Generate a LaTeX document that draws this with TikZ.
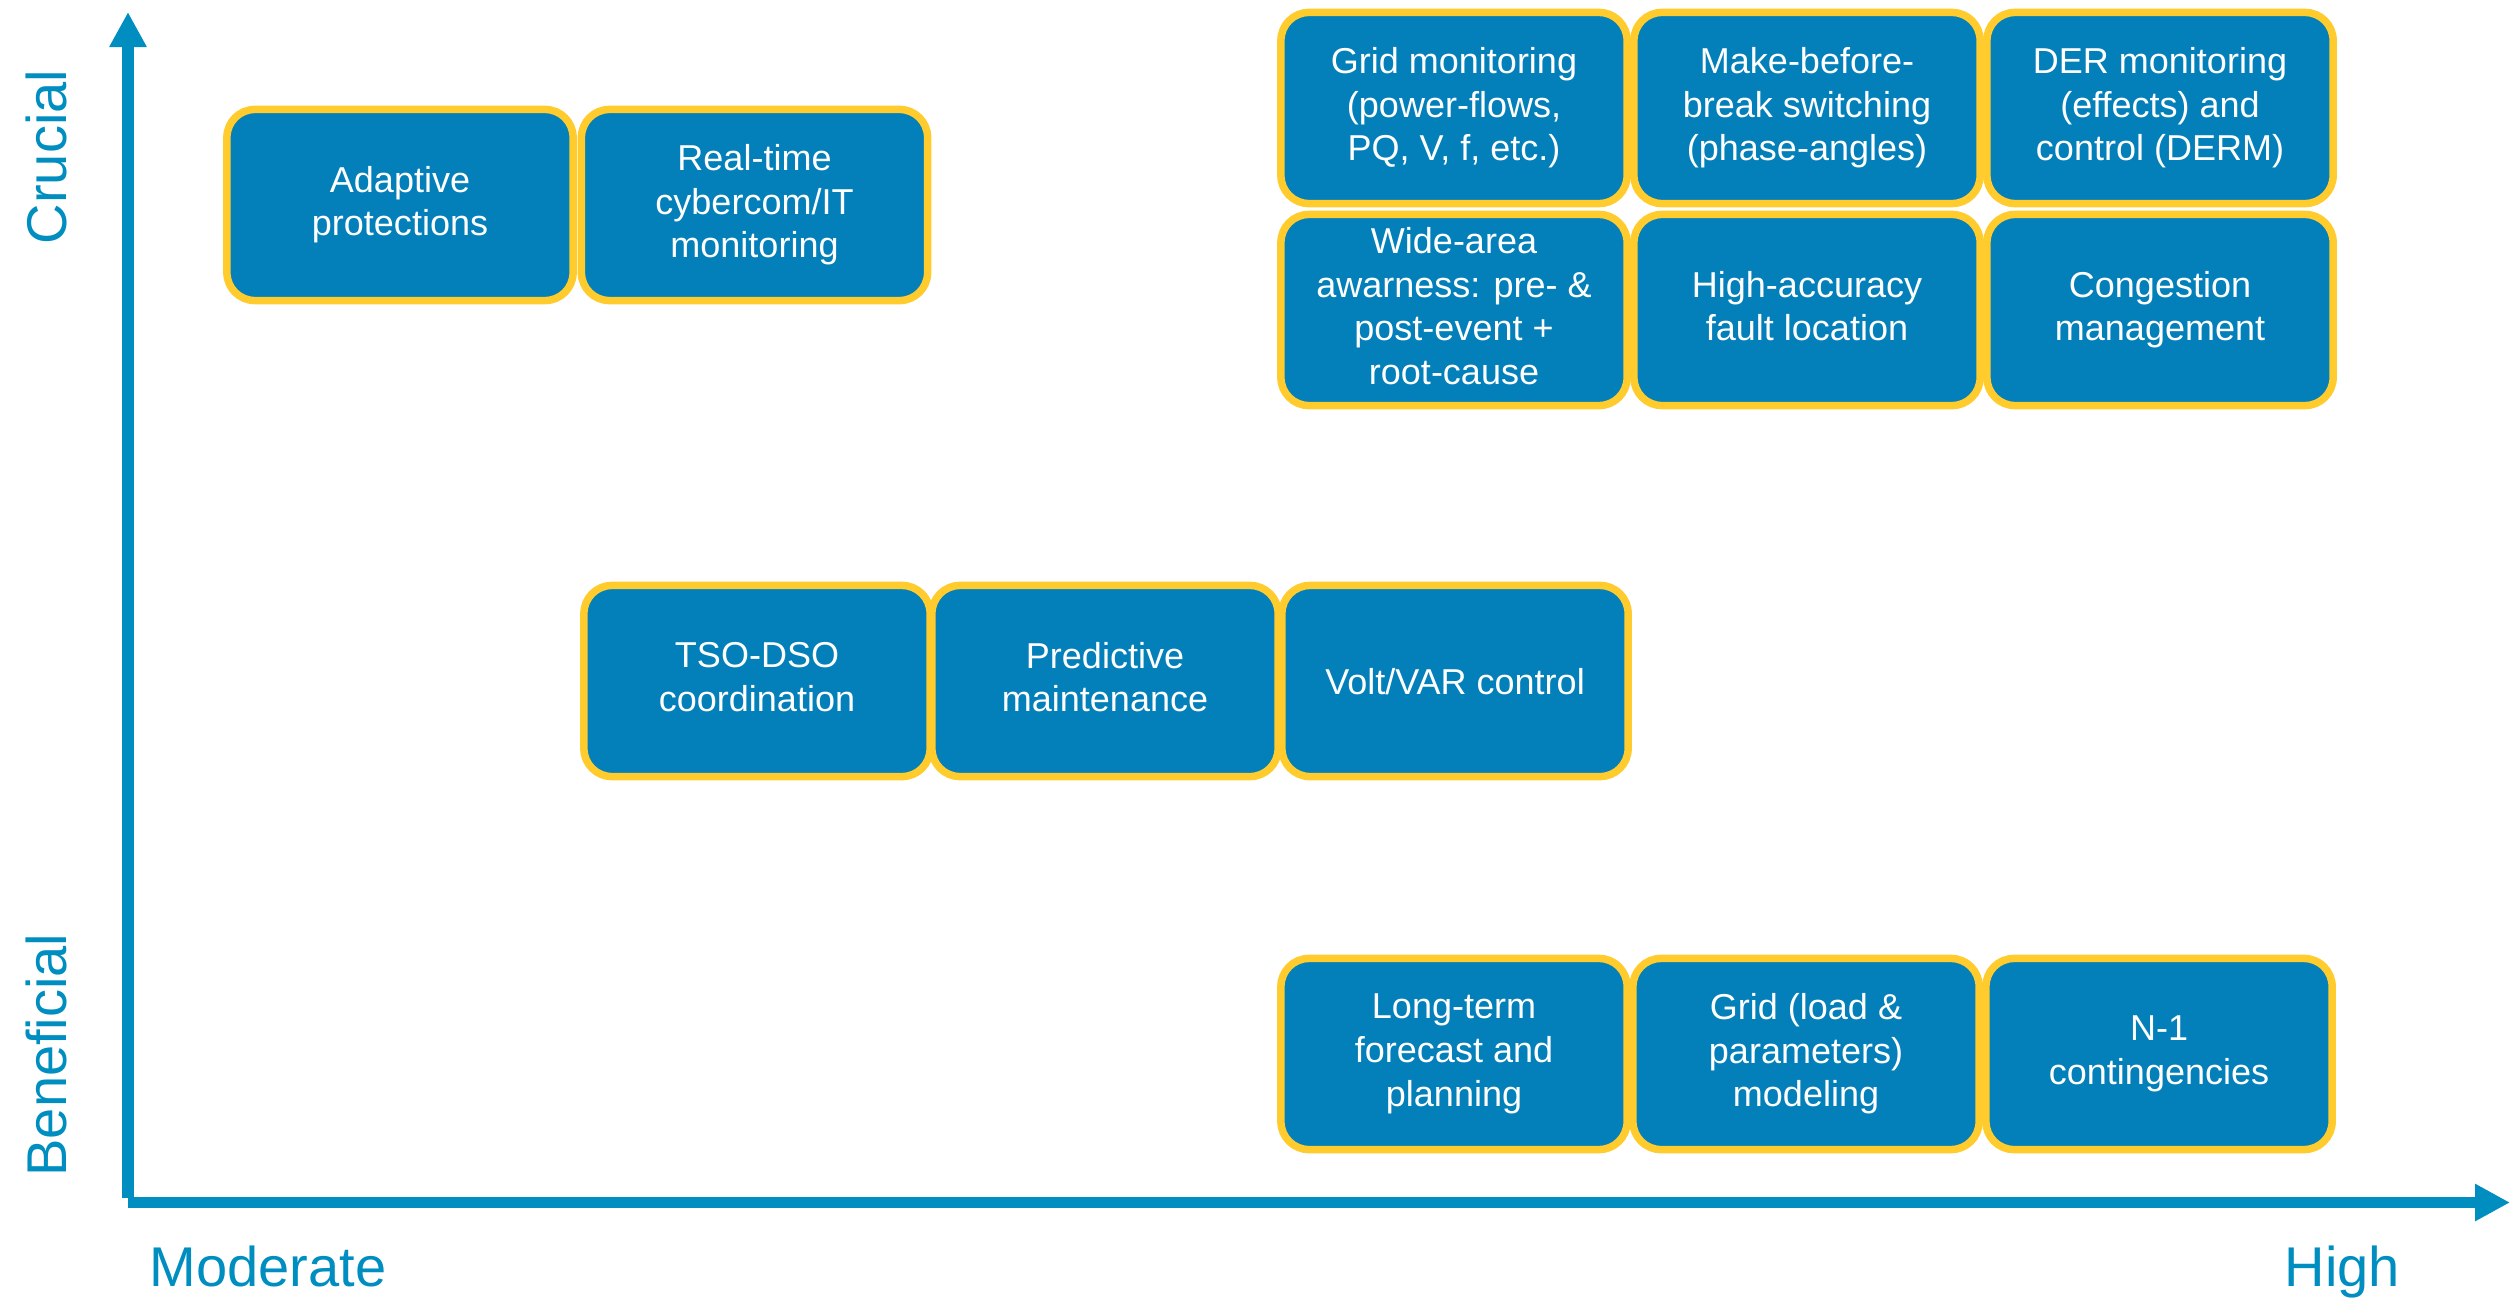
\documentclass[tikz,border=0pt]{standalone}
\usepackage{fontspec}
\setmainfont{Liberation Sans}
\usetikzlibrary{arrows.meta}
\definecolor{boxblue}{RGB}{3,127,186}
\definecolor{boxgold}{RGB}{255,203,45}
\definecolor{axisblue}{RGB}{0,142,192}
\begin{document}
\begin{tikzpicture}[x=0.01cm,y=-0.01cm,
  item/.style={draw=boxgold, fill=boxblue, line width=0.075cm,
    rounded corners=0.28cm, minimum width=3.46cm, minimum height=1.91cm,
    inner sep=0pt, text=white, align=center,
    font=\fontsize{10.24}{12.4}\selectfont,
    % fixed first-line height and last-line depth keep every text block centred alike
    execute at begin node={\rule{0pt}{0.34cm}},
    execute at end node={\rule[-0.08cm]{0pt}{0.08cm}}},
  axis/.style={draw=axisblue, line width=0.11cm,
    -{Triangle[length=0.35cm,width=0.35cm]}},
  axislabel/.style={text=axisblue, inner sep=0pt,
    font=\fontsize{15.93}{19}\selectfont}]
\useasboundingbox (0,0) rectangle (2510,1297);

% axes
\coordinate (yFoot) at (128,1198);
\coordinate (yTop) at (128,12);
\coordinate (xStart) at (128,1202.5);
\coordinate (xEnd) at (2510,1202.5);
\draw[axis] (yFoot) -- (yTop);
\draw[axis] (xStart) -- (xEnd);

% axis labels
\node[axislabel, anchor=base west] (lmod) at (149,1286) {Moderate};
\node[axislabel, anchor=base west] (lhigh) at (2284,1286) {High};
\node[axislabel, anchor=base, rotate=90] (lcru) at (66,157) {Crucial};
\node[axislabel, anchor=base, rotate=90] (lben) at (66,1055) {Beneficial};

% crucial, moderate
\node[item] (ap) at (400,205) {Adaptive\\protections};
\node[item] (rt) at (754.5,205) {Real-time\\cybercom/IT\\monitoring};

% crucial, high
\node[item] (gm) at (1454,108) {Grid monitoring\\(power-flows,\\PQ, V, f, etc.)};
\node[item] (mb) at (1807,108) {Make-before-\\break switching\\(phase-angles)};
\node[item] (der) at (2160,108) {DER monitoring\\(effects) and\\control (DERM)};
\node[item] (wa) at (1454,310) {Wide-area\\awarness: pre- \&\\post-event +\\root-cause};
\node[item] (ha) at (1807,310) {High-accuracy\\fault location};
\node[item] (cm) at (2160,310) {Congestion\\management};

% middle band
\node[item] (tso) at (757,681) {TSO-DSO\\coordination};
\node[item] (pm) at (1105,681) {Predictive\\maintenance};
\node[item] (vv) at (1455,681) {Volt/VAR control};

% beneficial, high
\node[item] (lt) at (1454,1054) {Long-term\\forecast and\\planning};
\node[item] (gl) at (1806,1054) {Grid (load \&\\parameters)\\modeling};
\node[item] (n1) at (2159,1054) {N-1\\contingencies};
\end{tikzpicture}
\end{document}
